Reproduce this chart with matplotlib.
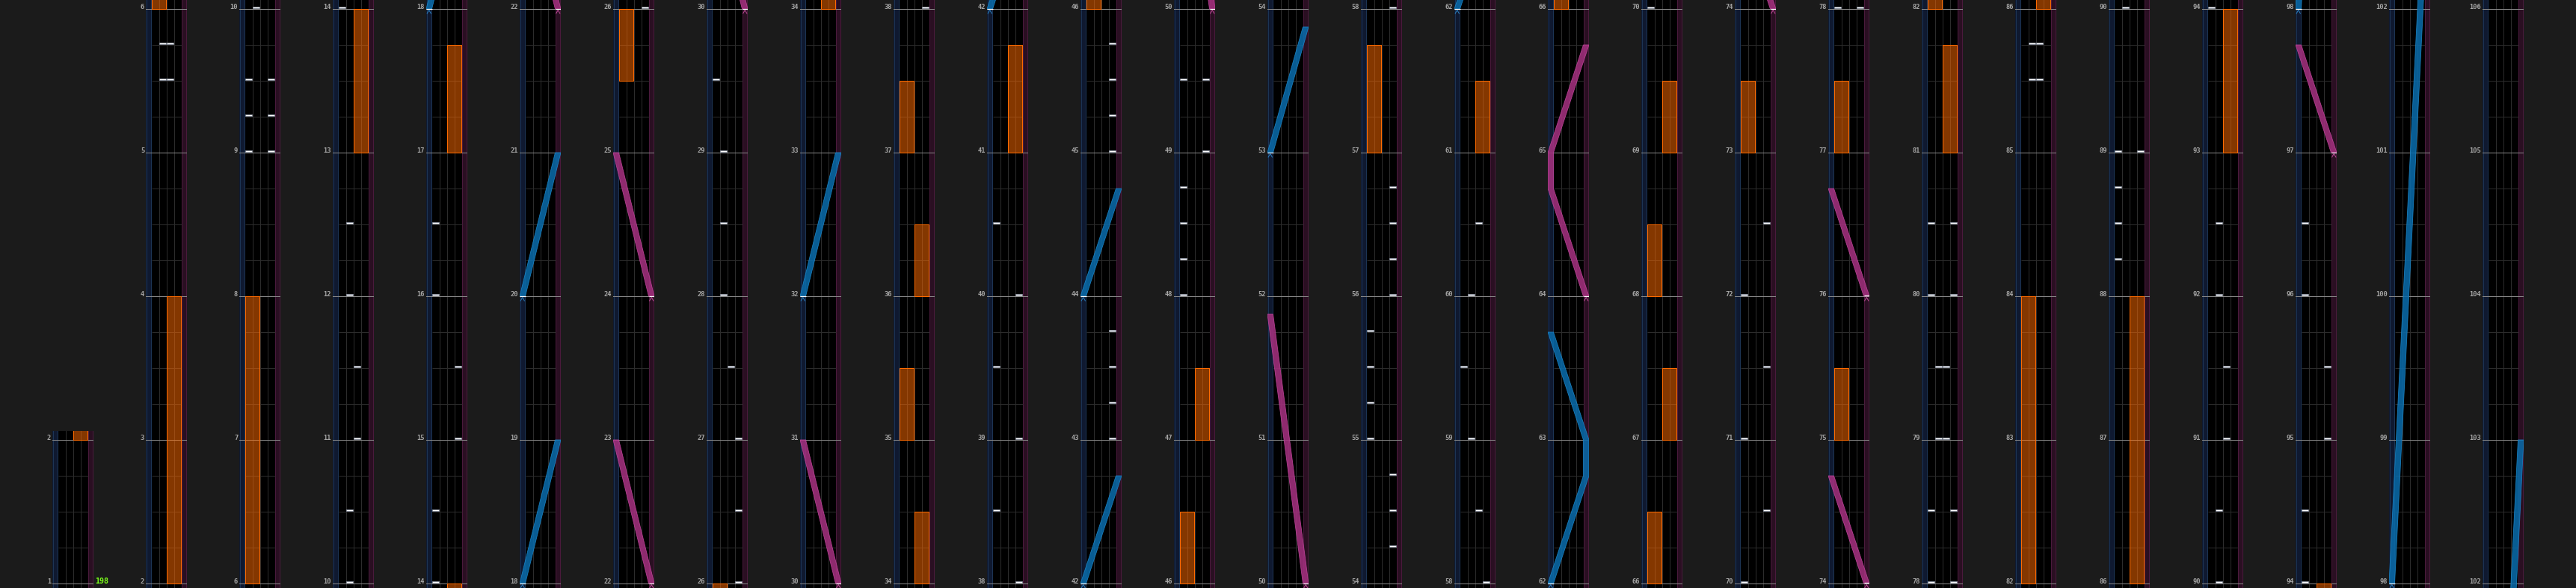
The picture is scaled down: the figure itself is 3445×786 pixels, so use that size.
import matplotlib
matplotlib.use("Agg")
import matplotlib.pyplot as plt
from matplotlib.patches import Rectangle, Polygon

# ---------------- data ----------------
COLUMN_START = [1, 2, 6, 10, 14, 18, 22, 26, 30, 34, 38, 42, 46, 50, 54,
                58, 62, 66, 70, 74, 78, 82, 86, 90, 94, 98, 102]
COLUMN_END = [2, 6, 10, 14, 18, 22, 26, 30, 34, 38, 42, 46, 50, 54, 58,
              62, 66, 70, 74, 78, 82, 86, 90, 94, 98, 102, 106]
BPM_LABEL = "198"

# BT chips: measure position and lane (0=A, 1=B, 2=C, 3=D)
chip_measure = [5.5, 5.5, 5.75, 5.75,
                9.0, 9.0, 9.25, 9.25, 9.5, 9.5, 10.0,
                10.5, 11.0, 11.5, 12.0, 12.5,
                14.0, 14.5, 15.0, 15.5, 16.0, 16.5,
                26.0, 26.5, 27.0, 27.5, 28.0, 28.5, 29.0, 29.5,
                38.0, 38.5, 39.0, 39.5, 40.0, 40.5,
                43.0, 43.25, 43.5, 43.75, 45.0, 45.25, 45.5, 45.75,
                48.0, 48.25, 48.5, 48.75, 49.0, 49.5, 49.5,
                54.25, 54.5, 54.75, 55.0, 55.25, 55.5, 55.75, 56.0, 56.25, 56.5, 56.75,
                58.0, 58.5, 59.0, 59.5, 60.0, 60.5,
                70.0, 70.5, 71.0, 71.5, 72.0, 72.5,
                78.0, 78.0, 78.5, 78.5, 79.0, 79.0, 79.5, 79.5, 80.0, 80.0, 80.5, 80.5,
                85.5, 85.5, 85.75, 85.75,
                88.25, 88.5, 88.75, 89.0, 89.0, 90.0,
                90.5, 91.0, 91.5, 92.0, 92.5, 94.0,
                94.5, 95.0, 95.5, 96.0, 96.5]
chip_lane = [1, 2, 1, 2,
             0, 3, 0, 3, 0, 3, 1,
             1, 2, 2, 1, 1,
             0, 0, 3, 3, 0, 0,
             3, 3, 3, 2, 1, 1, 1, 0,
             3, 0, 3, 0, 3, 0,
             3, 3, 3, 3, 3, 3, 3, 3,
             0, 0, 0, 0, 3, 0, 3,
             3, 3, 3, 0, 0, 0, 0, 3, 3, 3, 3,
             3, 2, 1, 0, 1, 2,
             0, 3, 0, 3, 0, 3,
             0, 3, 0, 3, 1, 2, 1, 2, 0, 3, 0, 3,
             1, 2, 1, 2,
             0, 0, 0, 0, 3, 1,
             1, 2, 2, 1, 1, 0,
             0, 3, 3, 0, 0]

# FX holds: start, end, side ('L' = lanes A-B, 'R' = lanes C-D)
fx_start = [2.0, 6.0, 13.0, 17.0, 25.5, 34.0, 35.0, 36.0, 37.0, 41.0, 46.0, 47.0,
            57.0, 61.0, 66.0, 67.0, 68.0, 69.0, 73.0, 75.0, 77.0, 81.0, 82.0, 86.0, 93.0]
fx_end = [4.0, 8.0, 14.0, 17.75, 26.0, 34.5, 35.5, 36.5, 37.5, 41.75, 46.5, 47.5,
          57.75, 61.5, 66.5, 67.5, 68.5, 69.5, 73.5, 75.5, 77.5, 81.75, 84.0, 88.0, 94.0]
fx_side = ['R', 'L', 'R', 'R', 'L', 'R', 'L', 'R', 'L', 'R', 'L', 'R',
           'L', 'R', 'L', 'R', 'L', 'R', 'L', 'L', 'L', 'R', 'L', 'R', 'R']

# lasers: lists of (measure, position 0=left .. 1=right)
laser_left = [
    [(18, 0), (19, 1)],
    [(20, 0), (21, 1)],
    [(32, 0), (33, 1)],
    [(42, 0), (42.75, 1)],
    [(44, 0), (44.75, 1)],
    [(53, 0), (53.875, 1)],
    [(62, 0), (62.75, 1), (63, 1), (63.75, 0)],
    [(98, 0), (103, 1)],
]
laser_right = [
    [(22, 1), (23, 0)],
    [(24, 1), (25, 0)],
    [(30, 1), (31, 0)],
    [(50, 1), (51.875, 0)],
    [(64, 1), (64.75, 0), (65, 0), (65.75, 1)],
    [(74, 1), (74.75, 0)],
    [(76, 1), (76.75, 0)],
    [(97, 1), (97.75, 0)],
]

# ---------------- layout / style ----------------
W, H, DPI = 3445, 786, 100
PXM = 192.0           # pixels per measure
COL_X0, COL_DX, COL_W = 70, 125, 55
LASER_W = 7.5
BT_W = 10.0
BG = '#1b1b1b'
FONT = 'DejaVu Sans Mono'
PT = 72.0 / DPI

fig = plt.figure(figsize=(W / DPI, H / DPI), dpi=DPI, facecolor=BG)


def lx(p):
    return p * (COL_W - LASER_W)


def draw_laser(ax, pts, color, edge, chev):
    left = [(lx(p), t) for t, p in pts]
    right = [(lx(p) + LASER_W, t) for t, p in pts][::-1]
    ax.add_patch(Polygon(left + right, closed=True, facecolor=color,
                         edgecolor=edge, lw=0.6, alpha=0.88, zorder=4))
    t0, p0 = pts[0]
    xc = lx(p0) + LASER_W / 2
    ax.plot([lx(p0), lx(p0) + LASER_W], [t0 + 0.5 / PXM, t0 + 0.5 / PXM],
            color='white', lw=1.2 * PT, zorder=5, solid_capstyle='butt')
    ax.plot([xc - 2.6, xc, xc + 2.6], [t0 - 6 / PXM, t0 - 1.5 / PXM, t0 - 6 / PXM],
            color=chev, lw=1.0 * PT, zorder=5)


for k, (m0, m1) in enumerate(zip(COLUMN_START, COLUMN_END)):
    nm = m1 - m0
    hpx = nm * PXM + 18
    ax = fig.add_axes([(COL_X0 + COL_DX * k) / W, 0, COL_W / W, hpx / H])
    ax.set_xlim(0, COL_W)
    ylo, yhi = m0 - 6 / PXM, m1 + 12 / PXM
    ax.set_ylim(ylo, yhi)
    ax.set_facecolor('none')
    for s in ax.spines.values():
        s.set_visible(False)
    ax.set_xticks([])

    # lane backgrounds
    ax.add_patch(Rectangle((0, ylo), LASER_W, yhi - ylo, facecolor='#0f1930',
                           edgecolor='none', zorder=0))
    ax.add_patch(Rectangle((COL_W - LASER_W, ylo), LASER_W, yhi - ylo,
                           facecolor='#2a0f22', edgecolor='none', zorder=0))
    ax.add_patch(Rectangle((LASER_W, ylo), 4 * BT_W, yhi - ylo, facecolor='black',
                           edgecolor='none', zorder=0))
    for xv, c in [(0.6, '#1c3454'), (LASER_W - 0.6, '#1c3454'),
                  (COL_W - LASER_W + 0.6, '#4a1a3c'), (COL_W - 0.6, '#4a1a3c')]:
        ax.axvline(xv, color=c, lw=1.0 * PT, zorder=1)
    for i in range(1, 4):
        ax.axvline(LASER_W + i * BT_W, color='#2c2c2c', lw=1.0 * PT, zorder=1)

    # beat lines (BT area only) and measure lines
    m = m0 - 1
    while m <= m1 + 1:
        for b in (0.25, 0.5, 0.75):
            ax.hlines(m + b, LASER_W, COL_W - LASER_W, color='#2c2c2c',
                      lw=1.0 * PT, zorder=1)
        m += 1
    ticks = list(range(m0, m1 + 1))
    for t in ticks:
        ax.axhline(t, color='#8a8a8a', lw=1.0 * PT, zorder=2)
    ax.set_yticks(ticks)
    ax.set_yticklabels([str(t) for t in ticks], fontfamily=FONT,
                       fontweight='bold', fontsize=6.3, color='#a6a6a6',
                       va='baseline')
    ax.tick_params(axis='y', length=0, pad=1.3)

    # FX holds
    for s, e, side in zip(fx_start, fx_end, fx_side):
        x0 = LASER_W + (0 if side == 'L' else 2 * BT_W)
        ax.add_patch(Rectangle((x0 + 0.5, s), 2 * BT_W - 1.0, e - s,
                               facecolor=(1.0, 0.42, 0.0, 0.52),
                               edgecolor=(1.0, 0.42, 0.0, 1.0),
                               lw=1.0 * PT, zorder=3))

    # lasers
    for pts in laser_left:
        draw_laser(ax, pts, '#0a6aa8', '#1b86c8', '#2a7fc0')
    for pts in laser_right:
        draw_laser(ax, pts, '#a3307e', '#c0449a', '#c04a98')

    # BT chips
    for t, ln in zip(chip_measure, chip_lane):
        ax.add_patch(Rectangle((LASER_W + ln * BT_W + 0.8, t + 0.6 / PXM),
                               BT_W - 1.6, 2.4 / PXM, facecolor='white',
                               edgecolor='#8e98ac', lw=0.6 * PT, zorder=6))

    if k == 0:
        ax.text(COL_W + 2.0, m0 + 0.3 / PXM, BPM_LABEL, color='#7cff1a',
                fontfamily=FONT, fontweight='bold', fontsize=7.2,
                ha='left', va='baseline', clip_on=False)

fig.savefig('out.png', dpi=DPI, facecolor=BG)
